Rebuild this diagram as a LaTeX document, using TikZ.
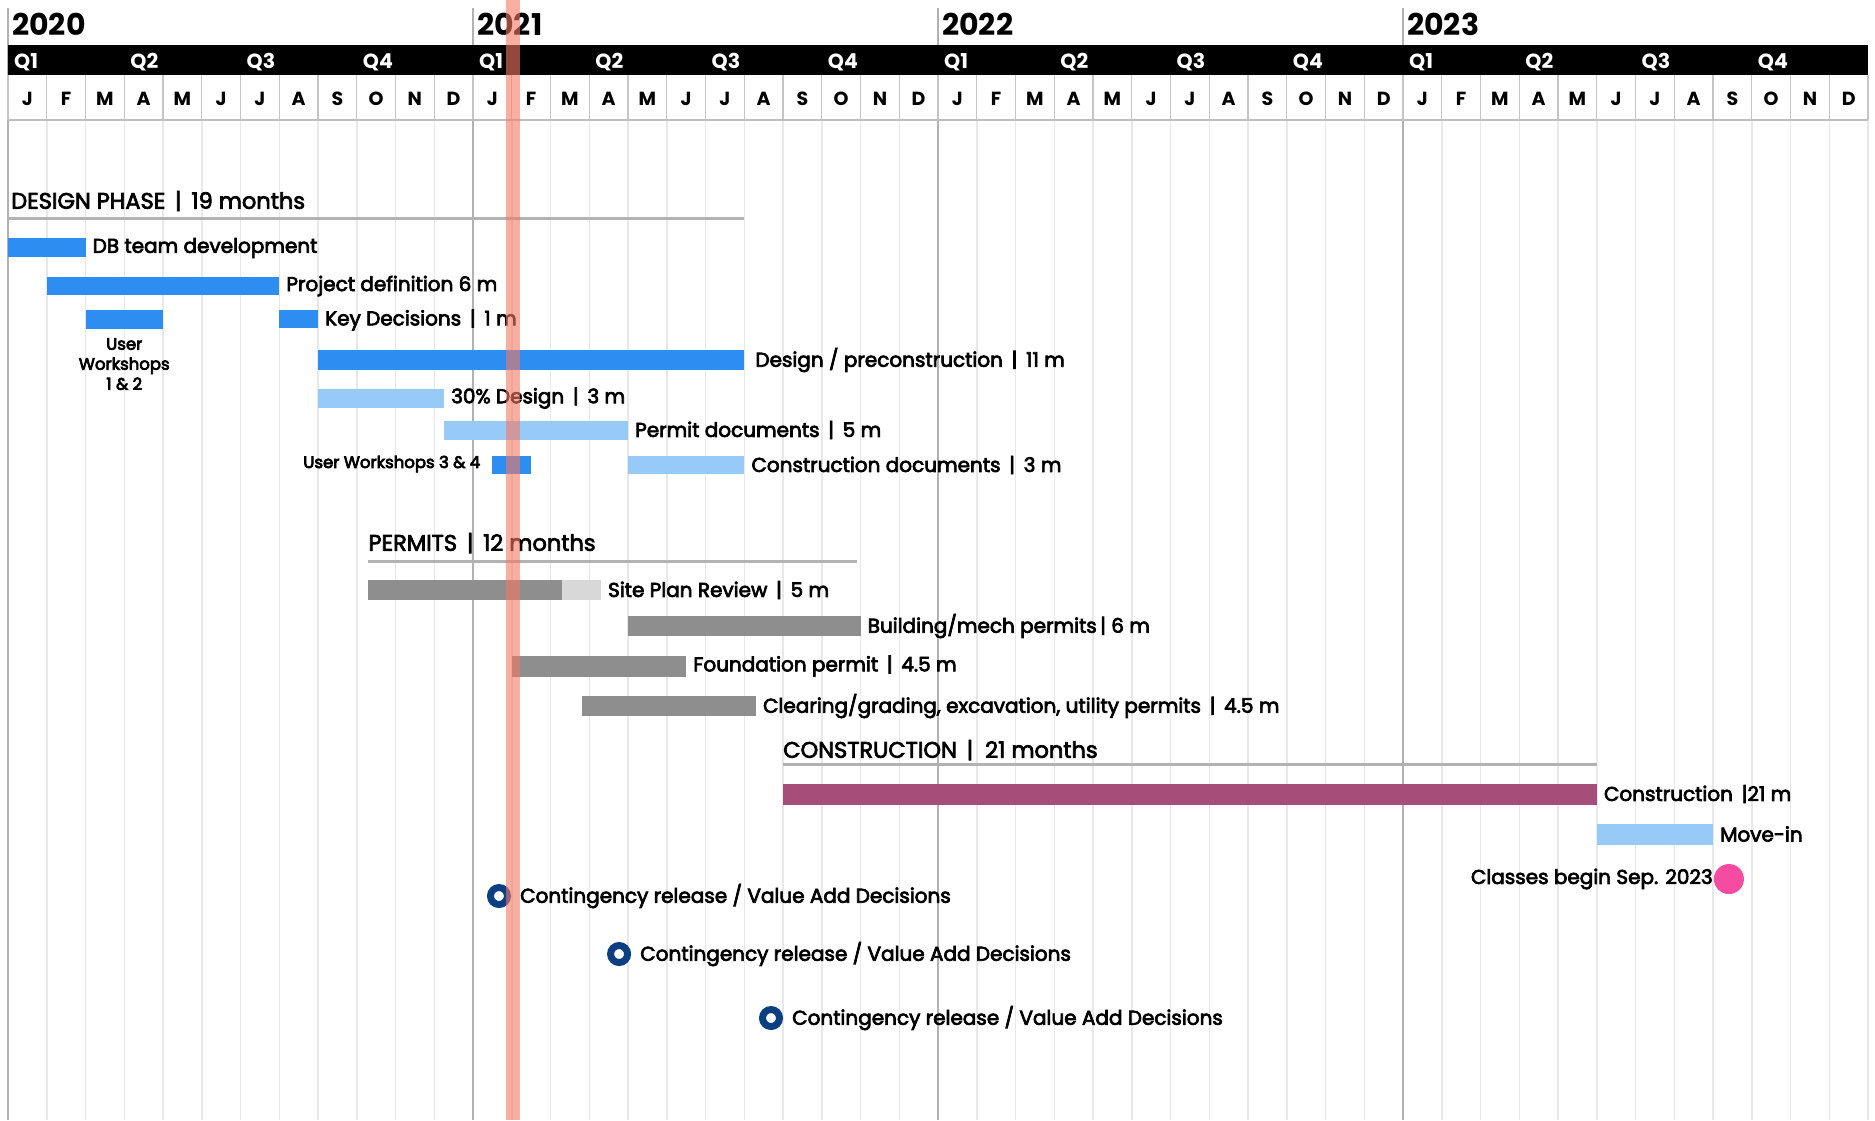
\documentclass[tikz,border=0pt]{standalone}
\usepackage{fontspec}
\setmainfont{Poppins}
\newfontfamily\lblfont{Poppins}
\newcommand\heavytext{\special{pdf:literal direct 2 Tr 0.7 w}}
\usetikzlibrary{positioning}

\definecolor{barblue}{RGB}{46,141,240}
\definecolor{lightblue}{RGB}{152,202,248}
\definecolor{permitgray}{RGB}{142,142,142}
\definecolor{palegray}{RGB}{216,216,216}
\definecolor{plum}{RGB}{166,77,121}
\definecolor{hotpink}{RGB}{245,75,160}
\definecolor{navy}{RGB}{12,62,130}
\definecolor{todayred}{RGB}{245,120,100}

\tikzset{
  lbl/.style={anchor=west, inner sep=0pt, xshift=7pt, font=\lblfont\fontsize{20}{20}\selectfont\heavytext},
  title/.style={anchor=west, inner sep=0pt, font=\lblfont\fontsize{22.5}{22.5}\selectfont\heavytext},
  small/.style={inner sep=0pt, font=\lblfont\fontsize{16.5}{20}\selectfont\heavytext},
  secline/.style={gray!60, line width=3pt},
  milestone/.style={navy, line width=7pt},
}

\begin{document}
\begin{tikzpicture}[x=38.75pt, y=-1pt]
\useasboundingbox (-0.2065,0) rectangle (48.18,1120);

% grid
\foreach \m in {0,...,48}
  \draw[gray!18, line width=1.5pt] (\m,120) -- (\m,1120);
\foreach \yr in {0,...,3}
  \draw[gray!60, line width=1.5pt] (\yr*12,8) -- (\yr*12,1120);

% header
\fill[black] (0,45) rectangle (48,75);
\foreach \m in {0,...,48}
  \draw[gray!45, line width=1.2pt] (\m,75) -- (\m,120);
\draw[gray!50, line width=1.5pt] (0,120) -- (48,120);
\foreach \yr/\yy in {0/2020,1/2021,2/2022,3/2023} {
  \node[anchor=west, inner sep=0pt, xshift=4pt, font=\bfseries\fontsize{30}{30}\selectfont]
    (year\yy) at (\yr*12,24) {\yy};
  \foreach \q in {1,...,4}
    \node[anchor=west, inner sep=0pt, xshift=6pt, white, font=\bfseries\fontsize{20.5}{20}\selectfont]
      (q\q-\yy) at (\yr*12+\q*3-3,62) {Q\q};
  \foreach \m/\l in {0/J,1/F,2/M,3/A,4/M,5/J,6/J,7/A,8/S,9/O,10/N,11/D}
    \node[inner sep=0pt, font=\bfseries\fontsize{19}{19}\selectfont]
      (m\m-\yy) at (\yr*12+\m+0.5,99) {\l};
}

% design phase
\node[title] (design) at (0.08,201) {DESIGN PHASE \,|\, 19 months};
\draw[secline] (0,218) -- (19,218);
\fill[barblue] (0,238) rectangle (2,257);
\node[lbl] (dbteam) at (2,248) {DB team development};
\fill[barblue] (1,277) rectangle (7,295);
\node[lbl] (projdef) at (7,286) {Project definition 6 m};
\fill[barblue] (2,310) rectangle (4,329);
\node[small, anchor=north, align=center] (uw12) at (3,338) {User\\Workshops\\1 \& 2};
\fill[barblue] (7,310) rectangle (8,328);
\node[lbl] (keydec) at (8,320) {Key Decisions \,|\, 1 m};
\fill[barblue] (8,350) rectangle (19,370);
\node[lbl, xshift=4pt] (precon) at (19,360) {Design / preconstruction \,|\, 11 m};
\fill[lightblue] (8,389) rectangle (11.25,408);
\node[lbl] (thirty) at (11.25,398) {30\% Design \,|\, 3 m};
\fill[lightblue] (11.25,421) rectangle (16,440);
\node[lbl] (permitdocs) at (16,430) {Permit documents \,|\, 5 m};
\fill[barblue] (12.5,456) rectangle (13.5,474);
\node[small, anchor=east, xshift=-12pt] (uw34) at (12.5,464) {User Workshops 3 \& 4};
\fill[lightblue] (16,456) rectangle (19,474);
\node[lbl] (cdocs) at (19,465) {Construction documents \,|\, 3 m};

% permits
\node[title] (permits) at (9.3,543) {PERMITS \,|\, 12 months};
\draw[secline] (9.3,561) -- (21.9,561);
\fill[permitgray] (9.3,580) rectangle (14.3,600);
\fill[palegray] (14.3,580) rectangle (15.3,600);
\node[lbl] (siteplan) at (15.3,590) {Site Plan Review \,|\, 5 m};
\fill[permitgray] (16,616) rectangle (22,636);
\node[lbl] (bldg) at (22,626) {Building/mech permits\,| 6 m};
\fill[permitgray] (13,656) rectangle (17.5,677);
\node[lbl] (found) at (17.5,666) {Foundation permit \,|\, 4.5 m};
\fill[permitgray] (14.8,696) rectangle (19.3,716);
\node[lbl] (clearing) at (19.3,706) {Clearing/grading, excavation, utility permits \,|\, 4.5 m};

% construction
\node[title] (constr) at (20,750) {CONSTRUCTION \,|\ \ 21 months};
\draw[secline] (20,764) -- (41,764);
\fill[plum] (20,784) rectangle (41,805);
\node[lbl] (build) at (41,794) {Construction \,|21 m};
\fill[lightblue] (41,824) rectangle (44,845);
\node[lbl] (movein) at (44,834) {Move-in};
\fill[hotpink] (44.41,879) circle (15pt);
\node[lbl, anchor=east, xshift=-23pt] (classes) at (44.41,879) {Classes begin Sep. 2023};

% contingency milestones
\foreach \x/\y/\n in {12.67/896/a, 15.77/954/b, 19.69/1018/c} {
  \draw[milestone] (\x,\y) circle (8.5pt);
  \node[lbl, xshift=14pt] (cont\n) at (\x,\y) {Contingency release / Value Add Decisions};
}

% today
\draw[todayred, opacity=.6, line width=14pt] (13.03,0) -- (13.03,1120);
\end{tikzpicture}
\end{document}
